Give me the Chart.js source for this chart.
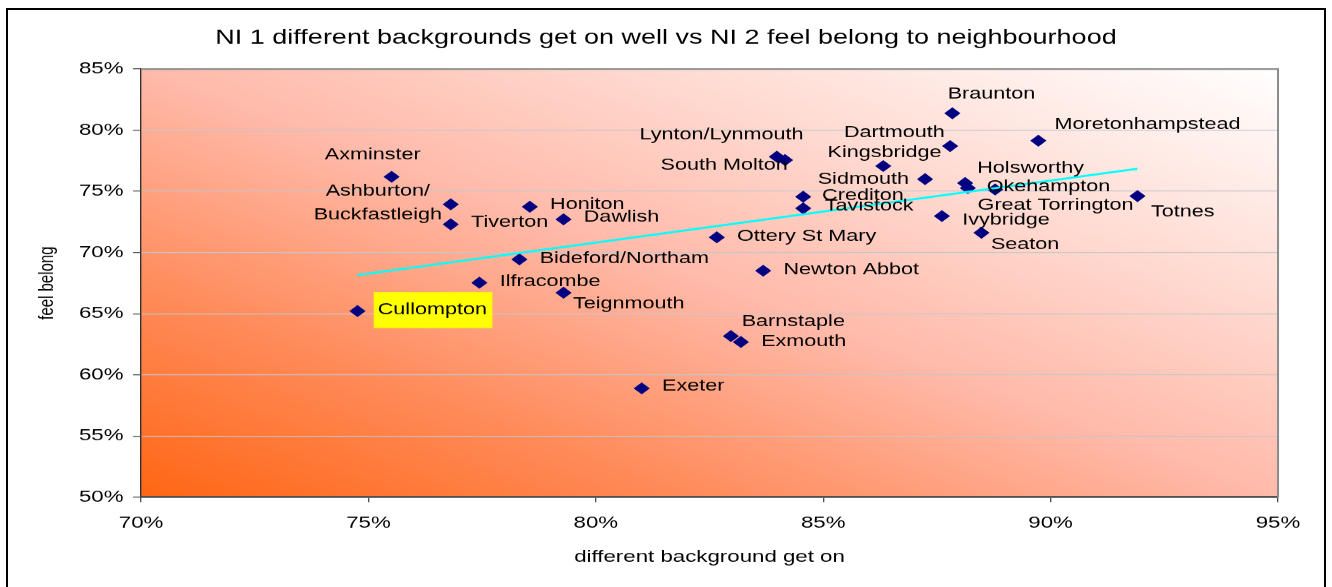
<!DOCTYPE html>
<html>
<head>
<meta charset="utf-8">
<script src="https://cdn.jsdelivr.net/npm/chart.js@4.4.1/dist/chart.umd.min.js"></script>
<style>
  html, body { margin: 0; padding: 0; background: #fff; overflow: hidden; }
  #frame { position: absolute; left: 6px; top: 8px; width: 1320px; height: 600px; border: 2px solid #000; box-sizing: border-box; }
  #chart { position: absolute; left: 0; top: 0; transform-origin: 0 0; }
</style>
</head>
<body>
<div id="frame"></div>
<canvas id="chart" width="987" height="587"></canvas>
<script>
// the original picture is stretched sideways, so draw narrow and widen it
const STRETCH = 1332 / 987;

const towns = [
  'Axminster', 'Ashburton/Buckfastleigh', 'Tiverton', 'Honiton', 'Dawlish',
  'Bideford/Northam', 'Ilfracombe', 'Teignmouth', 'Cullompton', 'Exeter',
  'Barnstaple', 'Exmouth', 'Newton Abbot', 'Ottery St Mary', 'Lynton/Lynmouth',
  'South Molton', 'Crediton', 'Tavistock', 'Kingsbridge', 'Sidmouth',
  'Dartmouth', 'Braunton', 'Moretonhampstead', 'Holsworthy', 'Okehampton',
  'Great Torrington', 'Ivybridge', 'Seaton', 'Totnes'
];
const diffBackground = [
  75.51, 76.81, 76.81, 78.55, 79.29,
  78.32, 77.44, 79.29, 74.76, 81.01,
  82.97, 83.19, 83.68, 82.66, 83.98,
  84.16, 84.56, 84.56, 86.32, 87.24,
  87.79, 87.84, 89.73, 88.12, 88.18,
  88.78, 87.61, 88.48, 91.91
];
const feelBelong = [
  76.19, 73.94, 72.30, 73.74, 72.71,
  69.44, 67.53, 66.71, 65.21, 58.89,
  63.17, 62.68, 68.51, 71.24, 77.83,
  77.56, 74.56, 73.61, 77.07, 76.00,
  78.70, 81.38, 79.14, 75.68, 75.27,
  75.15, 72.98, 71.61, 74.61
];
// linear trendline end points
const trendX = [74.76, 91.91];
const trendY = [68.15, 76.85];

const xTicks = [70, 75, 80, 85, 90, 95];
const yTicks = [50, 55, 60, 65, 70, 75, 80, 85];

// where each town label sits relative to its marker: [dx, dy, align]
const labelPos = {
  'Axminster': [-14, -22, 'center'],
  'Ashburton/Buckfastleigh': [-54, -1, 'center', ['Ashburton/', 'Buckfastleigh']],
  'Tiverton': [15, -2, 'left'],
  'Honiton': [15, -2, 'left'],
  'Dawlish': [15, -2, 'left'],
  'Bideford/Northam': [15, -1, 'left'],
  'Ilfracombe': [15, -1, 'left'],
  'Teignmouth': [7, 11, 'left'],
  'Cullompton': [15, -1, 'left'],
  'Exeter': [15, -2, 'left'],
  'Barnstaple': [8, -14, 'left'],
  'Exmouth': [15, 0, 'left'],
  'Newton Abbot': [15, -1, 'left'],
  'Ottery St Mary': [15, -1, 'left'],
  'Lynton/Lynmouth': [-41, -22, 'center'],
  'South Molton': [2, 5, 'right'],
  'Crediton': [14, -1, 'left'],
  'Tavistock': [16, -2, 'left'],
  'Kingsbridge': [1, -13, 'center'],
  'Sidmouth': [-12, 0, 'right'],
  'Dartmouth': [-4, -13, 'right'],
  'Braunton': [29, -19, 'center'],
  'Moretonhampstead': [12, -16, 'left'],
  'Holsworthy': [9, -15, 'left'],
  'Okehampton': [14, -1, 'left'],
  'Great Torrington': [-13, 16, 'left'],
  'Ivybridge': [15, 4, 'left'],
  'Seaton': [7, 12, 'left'],
  'Totnes': [10, 16, 'left']
};
const highlighted = 'Cullompton';

const FONT = '"Liberation Sans", Arial, sans-serif';
Chart.defaults.font.family = FONT;
Chart.defaults.color = '#000';

const plotBackground = {
  id: 'plotBackground',
  beforeDraw(chart) {
    const { ctx, chartArea: a } = chart;
    const w = a.right - a.left, h = a.bottom - a.top;
    const cx = (a.left + a.right) / 2, cy = (a.top + a.bottom) / 2;
    const s = w * h / (w * w + h * h);
    const g = ctx.createLinearGradient(cx - s * h, cy + s * w, cx + s * h, cy - s * w);
    g.addColorStop(0, 'rgb(255,102,20)');
    g.addColorStop(0.25, 'rgb(255,140,92)');
    g.addColorStop(0.5, 'rgb(255,186,170)');
    g.addColorStop(0.75, 'rgb(255,222,214)');
    g.addColorStop(1, 'rgb(255,255,255)');
    ctx.save();
    ctx.fillStyle = g;
    ctx.fillRect(a.left, a.top, w, h);
    ctx.restore();
  },
  beforeDatasetsDraw(chart) {
    const { ctx, chartArea: a } = chart;
    ctx.save();
    ctx.strokeStyle = '#8c8c8c';
    ctx.lineWidth = 1.5;
    ctx.beginPath();
    ctx.moveTo(a.left, a.top);
    ctx.lineTo(a.right, a.top);
    ctx.lineTo(a.right, a.bottom);
    ctx.stroke();
    ctx.restore();
  }
};

const townLabels = {
  id: 'townLabels',
  afterDatasetsDraw(chart) {
    const ctx = chart.ctx;
    const meta = chart.getDatasetMeta(1);
    ctx.save();
    ctx.font = '16px ' + FONT;
    ctx.textBaseline = 'middle';
    meta.data.forEach((pt, i) => {
      const name = towns[i];
      const [dx, dy, align, lines] = labelPos[name];
      const rows = lines || [name];
      const x = pt.x + dx;
      const y0 = pt.y + dy - (rows.length - 1) * 12;
      if (name === highlighted) {
        const tw = ctx.measureText(name).width;
        ctx.fillStyle = '#ffff00';
        ctx.fillRect(x - 3, pt.y + dy - 18, tw + 7, 36);
      }
      ctx.fillStyle = '#000';
      ctx.textAlign = align;
      rows.forEach((r, k) => ctx.fillText(r, x, y0 + k * 24));
    });
    ctx.restore();
  }
};

const points = towns.map((t, i) => ({ x: diffBackground[i], y: feelBelong[i] }));
const trend = trendX.map((x, i) => ({ x: x, y: trendY[i] }));

const canvas = document.getElementById('chart');
new Chart(canvas, {
  type: 'scatter',
  data: {
    datasets: [
      {
        type: 'line',
        label: 'Linear trend',
        data: trend,
        borderColor: '#00ffff',
        borderWidth: 2,
        pointRadius: 0,
        fill: false,
        order: 0
      },
      {
        label: 'towns',
        data: points,
        pointStyle: 'rectRot',
        pointRadius: 6,
        backgroundColor: '#000080',
        borderColor: '#000080',
        borderWidth: 0,
        order: 1
      }
    ]
  },
  options: {
    responsive: false,
    animation: false,
    devicePixelRatio: STRETCH,
    layout: { padding: { left: 40, right: 40, top: 0, bottom: 20 } },
    plugins: {
      legend: { display: false },
      tooltip: { enabled: false },
      title: {
        display: true,
        text: 'NI 1 different backgrounds get on well vs NI 2 feel belong to neighbourhood',
        font: { size: 20, weight: 'normal' },
        color: '#000',
        padding: { top: 26, bottom: 19 }
      }
    },
    scales: {
      x: {
        type: 'linear',
        min: xTicks[0],
        max: xTicks[xTicks.length - 1],
        afterFit(scale) { scale.height = 70; },
        ticks: {
          stepSize: xTicks[1] - xTicks[0],
          padding: 11,
          font: { size: 16.5 },
          color: '#000',
          callback: v => v + '%'
        },
        grid: { drawOnChartArea: false, tickLength: 5, tickColor: '#505050' },
        border: { color: '#505050', width: 2 },
        title: {
          display: true,
          text: 'different background get on',
          font: { size: 16.5 },
          color: '#000',
          padding: 0
        }
      },
      y: {
        type: 'linear',
        min: yTicks[0],
        max: yTicks[yTicks.length - 1],
        afterFit(scale) { scale.width = 64.5; },
        ticks: {
          stepSize: yTicks[1] - yTicks[0],
          padding: 7,
          font: { size: 16.5 },
          color: '#000',
          callback: v => v + '%'
        },
        grid: { color: '#c6c6cc', lineWidth: 1, tickLength: 6, tickColor: '#505050' },
        border: { color: '#303030', width: 1 },
        title: {
          display: true,
          text: 'feel belong',
          font: { size: 15 },
          color: '#000',
          padding: { top: -14, bottom: 0 }
        }
      }
    }
  },
  plugins: [plotBackground, townLabels]
});
canvas.style.transform = 'scaleX(' + STRETCH + ')';
</script>
</body>
</html>
